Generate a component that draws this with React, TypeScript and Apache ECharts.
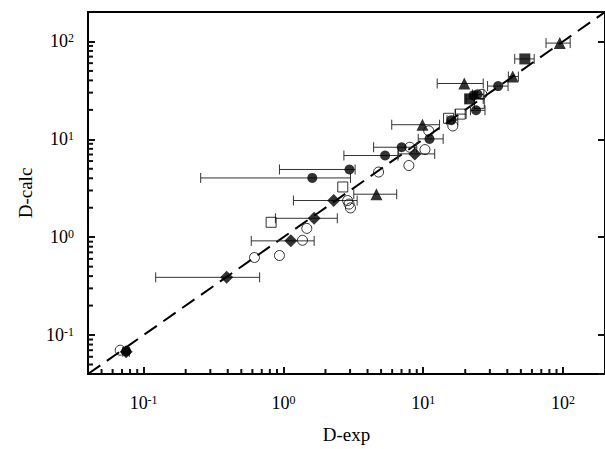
import React, { useEffect, useRef } from "react";
import * as echarts from "echarts";

const AXIS_MIN = 0.04;
const AXIS_MAX = 200;
const FONT = "'Liberation Serif', 'Times New Roman', serif";

// each row: [D-exp, D-calc, D-exp low, D-exp high] (null = no error bar)
const filledCircles: (number | null)[][] = [
  [34.4, 35.0, 28.9, 40.5],
  [22.9, 28.1, null, null],
  [24.5, 28.8, 22.5, 27.2],
  [23.9, 19.8, 21.8, 27.7],
  [15.9, 15.7, 14.8, 17.7],
  [11.1, 10.1, 9.22, 13.9],
  [7.02, 8.3, 4.42, 9.0],
  [5.34, 6.83, 2.71, 6.6],
  [2.97, 4.92, 0.937, 3.26],
  [1.61, 4.03, 0.256, 3.02],
  [0.075, 0.0685, null, null],
];

const openCircles: number[][] = [
  [26.3, 28.8],
  [16.3, 13.7],
  [10.96, 12.2],
  [8.03, 8.3],
  [10.3, 7.85],
  [7.9, 5.4],
  [4.8, 4.63],
  [2.88, 2.37],
  [2.95, 2.18],
  [3.02, 1.99],
  [1.37, 0.93],
  [1.47, 1.23],
  [0.937, 0.65],
  [0.621, 0.62],
  [0.068, 0.07],
];

const filledTriangles: (number | null)[][] = [
  [94.9, 96.2, 75.7, 112.7],
  [43.7, 43.8, 40.7, 48.0],
  [19.7, 37.2, 12.6, 26.9],
  [9.88, 14.1, 5.96, 13.1],
  [4.63, 2.75, 3.19, 6.47],
];

const filledDiamonds: (number | null)[][] = [
  [8.72, 7.1, 6.65, 12.1],
  [2.29, 2.37, 1.18, 3.37],
  [1.66, 1.56, 0.877, 2.43],
  [1.13, 0.917, 0.589, 1.66],
  [0.393, 0.389, 0.122, 0.676],
  [0.075, 0.0675, 0.071, 0.079],
];

const openSquares: (number | null)[][] = [
  [25.2, 23.3, null, null],
  [18.4, 18.1, 17.0, 20.3],
  [15.2, 16.4, null, null],
  [2.66, 3.26, null, null],
  [0.817, 1.42, null, null],
];

const filledSquares: (number | null)[][] = [
  [53.4, 66.3, 45.2, 62.3],
  [21.5, 25.9, 20.3, 26.9],
];

const diagonal = [
  [AXIS_MIN, AXIS_MIN],
  [AXIS_MAX, AXIS_MAX],
];

const decades = [0.01, 0.1, 1, 10, 100];
const minorMultipliers = [2, 3, 4, 5, 6, 7, 8, 9];

export default function App() {
  const ref = useRef<HTMLDivElement>(null);

  useEffect(() => {
    if (!ref.current) return;
    const chart = echarts.init(ref.current, undefined, { renderer: "svg" });

    const minorValues: number[] = [];
    decades.forEach((d) =>
      minorMultipliers.forEach((m) => {
        const v = +(d * m).toPrecision(3);
        if (v > AXIS_MIN && v < AXIS_MAX) minorValues.push(v);
      })
    );

    const all = [filledCircles, filledTriangles, filledDiamonds, openSquares, filledSquares];
    const errorBars: number[][] = [];
    all.forEach((arr) =>
      arr.forEach((r) => {
        if (r[2] != null && r[3] != null) errorBars.push([r[2] as number, r[3] as number, r[1] as number]);
      })
    );

    const pts = (arr: (number | null)[][]) => arr.map((r) => [r[0], r[1]]);

    const supFormatter = (v: number) => {
      const e = Math.round(Math.log10(v));
      return "10{sup|" + e + "}";
    };

    const labelRich = {
      sup: { fontSize: 12, fontFamily: FONT, color: "#000", verticalAlign: "top" as const, padding: [0, 0, 6, 0] },
    };

    const tickColor = "#111111";

    const option: any = {
      animation: false,
      backgroundColor: "#fff",
      textStyle: { fontFamily: FONT, color: "#000" },
      grid: { left: 88, top: 12, right: -4.6, bottom: 71.7, containLabel: false },
      xAxis: [
        {
          type: "log",
          logBase: 10,
          min: AXIS_MIN,
          max: AXIS_MAX,
          position: "bottom",
          name: "D-exp",
          nameLocation: "middle",
          nameGap: 51,
          nameTextStyle: { fontFamily: FONT, fontSize: 19, color: "#000" },
          axisLine: { show: true, lineStyle: { color: "#000", width: 2 } },
          axisTick: { show: true, inside: true, length: 7, lineStyle: { color: tickColor, width: 2 } },
          axisLabel: {
            show: true,
            margin: 20,
            fontFamily: FONT,
            fontSize: 18,
            color: "#000",
            showMinLabel: false,
            showMaxLabel: false,
            formatter: supFormatter,
            rich: labelRich,
          },
          splitLine: { show: false },
        },
        {
          type: "log",
          logBase: 10,
          min: AXIS_MIN,
          max: AXIS_MAX,
          position: "top",
          axisLine: { show: true, lineStyle: { color: "#000", width: 2 } },
          axisTick: { show: false },
          axisLabel: { show: false },
          splitLine: { show: false },
        },
      ],
      yAxis: [
        {
          type: "log",
          logBase: 10,
          min: AXIS_MIN,
          max: AXIS_MAX,
          position: "left",
          name: "D-calc",
          nameLocation: "middle",
          nameGap: 46,
          nameTextStyle: { fontFamily: FONT, fontSize: 19, color: "#000" },
          axisLine: { show: true, lineStyle: { color: "#000", width: 2 } },
          axisTick: { show: true, inside: true, length: 7, lineStyle: { color: tickColor, width: 2 } },
          axisLabel: {
            show: true,
            margin: 14,
            fontFamily: FONT,
            fontSize: 18,
            color: "#000",
            showMinLabel: false,
            showMaxLabel: false,
            formatter: supFormatter,
            rich: labelRich,
          },
          splitLine: { show: false },
        },
        {
          type: "log",
          logBase: 10,
          min: AXIS_MIN,
          max: AXIS_MAX,
          position: "right",
          axisLine: { show: true, lineStyle: { color: "#000", width: 2 } },
          axisTick: { show: true, inside: true, length: 7, lineStyle: { color: tickColor, width: 2 } },
          axisLabel: { show: false },
          splitLine: { show: false },
        },
      ],
      series: [
        {
          type: "line",
          data: diagonal,
          symbol: "none",
          z: 1,
          lineStyle: { color: "#000", width: 2, type: [15, 8] },
        },
        {
          type: "custom",
          z: 2,
          data: errorBars,
          encode: { x: [0, 1], y: 2 },
          renderItem: (params: any, api: any) => {
            const lo = api.coord([api.value(0), api.value(2)]);
            const hi = api.coord([api.value(1), api.value(2)]);
            const h = 5;
            const style = { stroke: "#333", lineWidth: 1 };
            return {
              type: "group",
              children: [
                { type: "line", shape: { x1: lo[0], y1: lo[1], x2: hi[0], y2: hi[1] }, style },
                { type: "line", shape: { x1: lo[0], y1: lo[1] - h, x2: lo[0], y2: lo[1] + h }, style },
                { type: "line", shape: { x1: hi[0], y1: hi[1] - h, x2: hi[0], y2: hi[1] + h }, style },
              ],
            };
          },
        },
        {
          type: "custom",
          z: 6,
          clip: false,
          silent: true,
          data: minorValues.map((v) => [v, 1]),
          encode: { x: 0, y: 1 },
          renderItem: (params: any, api: any) => {
            const p = api.coord([api.value(0), 1]);
            const yBottom = params.coordSys.y + params.coordSys.height;
            return { type: "rect", shape: { x: p[0] - 1, y: yBottom - 5, width: 2, height: 5 }, style: { fill: tickColor } };
          },
        },
        {
          type: "custom",
          z: 6,
          clip: false,
          silent: true,
          data: minorValues.map((v) => [1, v]),
          encode: { x: 0, y: 1 },
          renderItem: (params: any, api: any) => {
            const p = api.coord([1, api.value(1)]);
            const xLeft = params.coordSys.x;
            return { type: "rect", shape: { x: xLeft, y: p[1] - 1, width: 5, height: 2 }, style: { fill: tickColor } };
          },
        },
        {
          type: "scatter",
          z: 3,
          data: pts(filledCircles),
          symbol: "circle",
          symbolSize: 10,
          itemStyle: { color: "#000" },
        },
        {
          type: "scatter",
          z: 3,
          data: openCircles,
          symbol: "circle",
          symbolSize: 10,
          itemStyle: { color: "rgba(0,0,0,0)", borderColor: "#000", borderWidth: 1 },
        },
        {
          type: "scatter",
          z: 3,
          data: pts(filledTriangles),
          symbol: "triangle",
          symbolSize: 12,
          itemStyle: { color: "#000" },
        },
        {
          type: "scatter",
          z: 3,
          data: pts(filledDiamonds),
          symbol: "diamond",
          symbolSize: 13,
          itemStyle: { color: "#000" },
        },
        {
          type: "scatter",
          z: 3,
          data: pts(openSquares),
          symbol: "rect",
          symbolSize: 10,
          itemStyle: { color: "rgba(0,0,0,0)", borderColor: "#000", borderWidth: 1 },
        },
        {
          type: "scatter",
          z: 3,
          data: pts(filledSquares),
          symbol: "rect",
          symbolSize: 11,
          itemStyle: { color: "#000" },
        },
      ],
    };

    chart.setOption(option);
    return () => chart.dispose();
  }, []);

  return (
    <div
      ref={ref}
      style={{ position: "fixed", left: 0, top: 0, width: 605, height: 449, background: "#fff" }}
    />
  );
}
